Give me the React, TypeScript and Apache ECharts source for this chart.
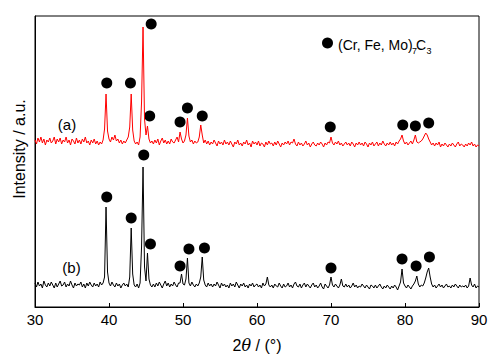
import { useEffect, useRef } from 'react';
import * as echarts from 'echarts';

// 2θ grid: 30° → 90° in 0.2° steps (301 readings per pattern)
const twoThetaStart = 30;
const twoThetaStep = 0.2;

// Pattern (a), red — intensity in arbitrary units (offset stack)
const intensityA = [
  167, 163, 169, 165, 170, 164, 168, 162, 167, 165,
  169, 164, 166, 170, 163, 168, 165, 169, 163, 167,
  165, 170, 164, 167, 162, 168, 166, 163, 169, 164,
  167, 163, 168, 165, 170, 164, 166, 162, 167, 164,
  168, 163, 166, 162, 165, 163, 167, 178, 213, 176,
  168, 165, 170, 167, 172, 166, 168, 164, 167, 163,
  166, 164, 167, 170, 180, 213, 177, 166, 163, 165,
  162, 170, 205, 280, 188, 172, 181, 168, 164, 166,
  163, 167, 164, 168, 162, 166, 169, 164, 167, 163,
  166, 163, 168, 165, 164, 167, 170, 165, 175, 168,
  164, 166, 172, 189, 171, 165, 167, 163, 166, 164,
  165, 170, 182, 172, 164, 167, 163, 166, 162, 165,
  163, 167, 164, 161, 166, 163, 165, 162, 167, 163,
  165, 162, 166, 163, 160, 165, 163, 167, 162, 164,
  161, 165, 163, 167, 162, 164, 160, 166, 163, 165,
  162, 166, 161, 164, 163, 160, 165, 162, 166, 163,
  164, 161, 165, 162, 166, 163, 160, 164, 162, 165,
  163, 166, 162, 165, 164, 168, 163, 161, 165, 162,
  164, 161, 163, 166, 162, 164, 160, 163, 165, 162,
  161, 164, 162, 165, 163, 160, 164, 162, 165, 164,
  170, 164, 162, 165, 163, 166, 162, 164, 161, 163,
  165, 162, 164, 161, 165, 163, 160, 164, 162, 165,
  162, 164, 161, 165, 163, 160, 164, 162, 165, 161,
  163, 165, 161, 164, 162, 166, 163, 161, 164, 162,
  165, 162, 164, 161, 165, 163, 166, 168, 172, 166,
  163, 165, 162, 164, 166, 163, 167, 172, 165, 164,
  165, 166, 168, 171, 174, 172, 168, 165, 162, 164,
  161, 164, 162, 165, 160, 163, 161, 164, 162, 160,
  163, 161, 164, 162, 160, 163, 165, 161, 163, 162,
  160, 163, 161, 164, 162, 165, 161, 163, 160, 162,
  161,
];

// Pattern (b), black
const intensityB = [
  24, 20, 25, 21, 23, 19, 26, 22, 20, 24,
  21, 25, 22, 19, 24, 20, 23, 26, 21, 22,
  25, 20, 23, 21, 26, 22, 19, 24, 21, 23,
  22, 25, 20, 23, 19, 24, 21, 25, 22, 20,
  24, 21, 23, 20, 25, 22, 24, 30, 100, 35,
  24, 21, 25, 22, 20, 24, 21, 23, 19, 22,
  24, 21, 23, 20, 30, 79, 33, 22, 20, 23,
  19, 24, 60, 140, 40, 26, 54, 28, 22, 20,
  23, 20, 24, 21, 25, 22, 19, 23, 26, 21,
  24, 20, 23, 21, 25, 22, 20, 24, 24, 33,
  23, 22, 28, 49, 24, 21, 25, 22, 20, 23,
  21, 24, 30, 50, 27, 22, 20, 24, 21, 23,
  20, 23, 21, 25, 22, 19, 24, 21, 23, 20,
  22, 19, 24, 21, 23, 20, 25, 22, 19, 23,
  21, 24, 20, 22, 19, 23, 21, 24, 20, 22,
  23, 20, 22, 19, 24, 21, 23, 30, 22, 20,
  22, 19, 23, 21, 20, 24, 21, 19, 23, 20,
  21, 24, 20, 22, 19, 23, 25, 21, 20, 23,
  19, 22, 24, 20, 23, 21, 19, 22, 24, 20,
  22, 19, 21, 24, 20, 18, 23, 21, 19, 22,
  30, 22, 20, 23, 21, 19, 22, 28, 21, 20,
  23, 20, 22, 19, 21, 24, 20, 22, 19, 21,
  20, 23, 21, 19, 22, 20, 18, 22, 21, 19,
  22, 19, 21, 23, 20, 18, 21, 19, 22, 20,
  18, 21, 19, 22, 20, 17, 21, 25, 38, 24,
  21, 19, 22, 20, 18, 21, 23, 26, 31, 23,
  20, 22, 21, 24, 29, 35, 39, 30, 23, 20,
  22, 19, 21, 23, 20, 22, 19, 21, 23, 20,
  21, 19, 22, 20, 23, 21, 19, 22, 20, 21,
  20, 22, 19, 21, 29, 22, 20, 23, 19, 21,
  20,
];

// (Cr, Fe, Mo)7C3 peak markers [2θ, marker height]
const peakMarksA = [
  [39.7, 224], [42.9, 224], [45.7, 283], [45.5, 191], [49.6, 185], [50.6, 199],
  [52.6, 191], [69.9, 180], [79.7, 182], [81.4, 181], [83.2, 184],
];
const peakMarksB = [
  [44.7, 152], [39.7, 110], [43.0, 89], [45.6, 63], [49.6, 41], [50.8, 58],
  [52.9, 59], [70.0, 39], [79.6, 48], [81.5, 41], [83.3, 50],
];

const xMin = 30;
const xMax = 90;
const xInterval = 10;
const yMin = 0;
const yMax = 291;

const FONT = 'Liberation Sans, Arial, Helvetica, sans-serif';

function toPairs(values: number[]) {
  return values.map((v, i) => [+(twoThetaStart + i * twoThetaStep).toFixed(1), v]);
}

export default function App() {
  const ref = useRef<HTMLDivElement>(null);
  useEffect(() => {
    document.body.style.margin = '0';
    if (!ref.current) return;
    const chart = echarts.init(ref.current, null, { renderer: 'svg' });
    chart.setOption({
      animation: false,
      backgroundColor: '#fff',
      grid: {
        left: 35, right: 24, top: 16, bottom: 52,
        containLabel: false,
        outerBoundsMode: 'none',
        show: true, borderColor: '#000', borderWidth: 1,
      },
      xAxis: {
        type: 'value',
        min: xMin, max: xMax, interval: xInterval,
        axisLine: { show: true, lineStyle: { color: '#000', width: 1 } },
        axisTick: { show: true, inside: true, length: 4, lineStyle: { color: '#000' } },
        axisLabel: { color: '#000', fontSize: 15, fontFamily: FONT, margin: 5 },
        splitLine: { show: false },
        name: '2{i|θ} / (°)',
        nameLocation: 'middle',
        nameGap: 30,
        nameTextStyle: {
          color: '#000', fontSize: 16, fontFamily: FONT,
          rich: { i: { fontStyle: 'italic', fontSize: 16, fontFamily: 'DejaVu Serif, serif', color: '#000' } },
        },
      },
      yAxis: {
        type: 'value',
        min: yMin, max: yMax,
        axisLine: { show: true, lineStyle: { color: '#000', width: 1 } },
        axisTick: { show: false },
        axisLabel: { show: false },
        splitLine: { show: false },
      },
      series: [
        {
          name: '(b)', type: 'line', data: toPairs(intensityB), showSymbol: false,
          lineStyle: { color: '#000', width: 1 }, itemStyle: { color: '#000' },
        },
        {
          name: '(a)', type: 'line', data: toPairs(intensityA), showSymbol: false,
          lineStyle: { color: '#ff0000', width: 1 }, itemStyle: { color: '#ff0000' },
        },
        {
          name: '(Cr, Fe, Mo)7C3 (a)', type: 'scatter', data: peakMarksA, symbol: 'circle', symbolSize: 11,
          itemStyle: { color: '#000', opacity: 1 }, clip: false,
        },
        {
          name: '(Cr, Fe, Mo)7C3 (b)', type: 'scatter', data: peakMarksB, symbol: 'circle', symbolSize: 11,
          itemStyle: { color: '#000', opacity: 1 }, clip: false,
        },
      ],
      graphic: [
        {
          type: 'text', x: 19, y: 149, rotation: Math.PI / 2,
          style: { text: 'Intensity / a.u.', fontSize: 16, fontFamily: FONT, fill: '#000', verticalAlign: 'middle', align: 'center' },
        },
        { type: 'circle', shape: { cx: 327.5, cy: 43, r: 5.5 }, style: { fill: '#000' } },
        { type: 'text', x: 338, y: 45, style: { text: '(Cr, Fe, Mo)', fontSize: 14, fontFamily: FONT, fill: '#000', verticalAlign: 'middle', align: 'left' } },
        { type: 'text', x: 412, y: 51, style: { text: '7', fontSize: 9, fontFamily: FONT, fill: '#000', verticalAlign: 'middle', align: 'left' } },
        { type: 'text', x: 416, y: 45, style: { text: 'C', fontSize: 14, fontFamily: FONT, fill: '#000', verticalAlign: 'middle', align: 'left' } },
        { type: 'text', x: 426.5, y: 51, style: { text: '3', fontSize: 9, fontFamily: FONT, fill: '#000', verticalAlign: 'middle', align: 'left' } },
        { type: 'text', x: 67, y: 124, style: { text: '(a)', fontSize: 15, fontFamily: FONT, fill: '#000', verticalAlign: 'middle', align: 'center' } },
        { type: 'text', x: 71.5, y: 267, style: { text: '(b)', fontSize: 15, fontFamily: FONT, fill: '#000', verticalAlign: 'middle', align: 'center' } },
      ],
    });
    return () => chart.dispose();
  }, []);
  return <div ref={ref} style={{ width: 503, height: 359 }} />;
}
